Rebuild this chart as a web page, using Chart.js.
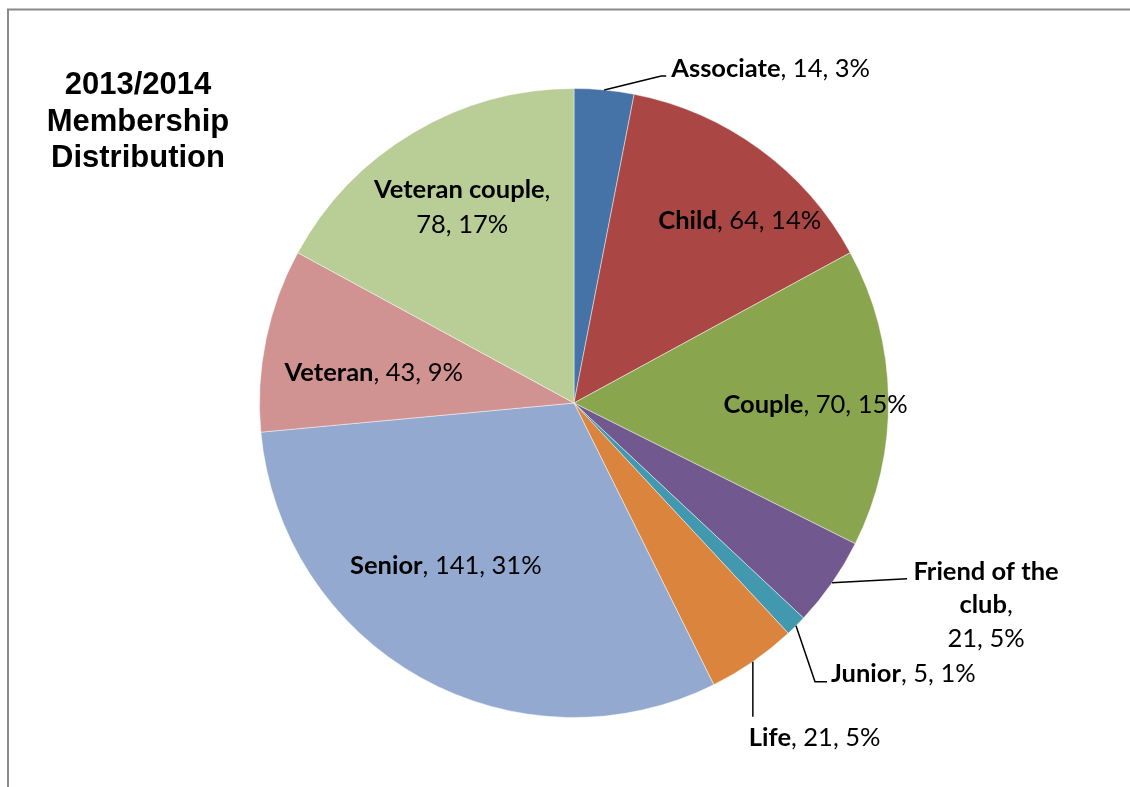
<!DOCTYPE html>
<html>
<head>
<meta charset="utf-8">
<script src="https://cdn.jsdelivr.net/npm/chart.js@4/dist/chart.umd.min.js"></script>
<style>
  html, body { margin: 0; padding: 0; background: #fff; }
  #wrap { position: relative; width: 1130px; height: 787px; }
</style>
</head>
<body>
<div id="wrap"><canvas id="c" width="1130" height="787"></canvas></div>
<script>
// Membership categories and head counts for the 2013/2014 season
const categories = ['Associate', 'Child', 'Couple', 'Friend of the club', 'Junior', 'Life', 'Senior', 'Veteran', 'Veteran couple'];
const members = [14, 64, 70, 21, 5, 21, 141, 43, 78];
const percentLabels = ['3%', '14%', '15%', '5%', '1%', '5%', '31%', '9%', '17%'];
const titleLines = ['2013/2014', 'Membership', 'Distribution'];

const sliceColors = ['#4572A7', '#AA4643', '#89A54E', '#71588F', '#4198AF', '#DB843D', '#93A9CF', '#D19392', '#B9CD96'];

const LABEL_FONT = 'Lato, "Open Sans", sans-serif';
const LABEL_SIZE = 25.5;

// Label placement: inside labels sit at a fraction of the radius around the slice middle;
// outside labels hang off a leader line that starts on the slice rim.
const inside = {
  1: { r: 0.784, turn: 6 },
  2: { r: 0.768, turn: 1.5 },
  6: { r: 0.66, turn: 9 },
  7: { r: 0.644, turn: -3 },
  8: { r: 0.717, turn: 1, lines: [[['Veteran couple', true], [',', false]], [[null, false]]] }
};
const outside = {
  0: { path: [[57, -14], [62, -14]], textDx: 5, textDy: -7, align: 'left' },
  3: { path: [[75, -4]], block: { dx: 154, dy: -11, gap: 33.5 }, lines: [[['Friend of the', true]], [['club', true], [',', false]], [[null, false]]] },
  4: { path: [[19, 56], [31, 56]], textDx: 4, textDy: -8, align: 'left' },
  5: { path: [[0, 55]], textDx: -4, textDy: 21, align: 'left' }
};

function valueText(i) { return members[i] + ', ' + percentLabels[i]; }

function drawRich(ctx, parts, x, y, align) {
  const bold = 'bold ' + LABEL_SIZE + 'px ' + LABEL_FONT;
  const norm = LABEL_SIZE + 'px ' + LABEL_FONT;
  let total = 0;
  parts.forEach(p => { ctx.font = p[1] ? bold : norm; total += ctx.measureText(p[0]).width; });
  let cx = align === 'center' ? x - total / 2 : x;
  ctx.textAlign = 'left';
  ctx.textBaseline = 'middle';
  parts.forEach(p => {
    ctx.font = p[1] ? bold : norm;
    ctx.fillText(p[0], cx, y);
    cx += ctx.measureText(p[0]).width;
  });
}

function defaultParts(i) {
  return [[categories[i], true], [', ' + valueText(i), false]];
}

const framePlugin = {
  id: 'frame',
  beforeDraw(chart) {
    const ctx = chart.ctx;
    ctx.save();
    ctx.strokeStyle = '#8a8a8a';
    ctx.lineWidth = 2;
    ctx.beginPath();
    ctx.moveTo(8, 800);
    ctx.lineTo(8, 9.5);
    ctx.lineTo(1140, 9.5);
    ctx.stroke();
    // chart title block
    ctx.fillStyle = '#000';
    ctx.font = 'bold 31px "Liberation Sans", Arial, sans-serif';
    ctx.textAlign = 'center';
    ctx.textBaseline = 'alphabetic';
    titleLines.forEach((t, k) => ctx.fillText(t, 138, 94 + k * 36.5));
    ctx.restore();
  }
};

const labelPlugin = {
  id: 'sliceLabels',
  afterDatasetsDraw(chart) {
    const ctx = chart.ctx;
    const arcs = chart.getDatasetMeta(0).data;
    ctx.save();
    ctx.fillStyle = '#000';
    ctx.strokeStyle = '#000';
    ctx.lineWidth = 1.5;
    arcs.forEach((arc, i) => {
      const { x, y, startAngle, endAngle, outerRadius } = arc.getProps(['x', 'y', 'startAngle', 'endAngle', 'outerRadius'], true);
      const mid = (startAngle + endAngle) / 2;
      if (inside[i]) {
        const cfg = inside[i];
        const a = mid + cfg.turn * Math.PI / 180;
        const px = x + Math.cos(a) * outerRadius * cfg.r;
        const py = y + Math.sin(a) * outerRadius * cfg.r;
        if (cfg.lines) {
          const gap = 35;
          const n = cfg.lines.length;
          cfg.lines.forEach((ln, k) => {
            const parts = ln.map(p => [p[0] === null ? valueText(i) : p[0], p[1]]);
            drawRich(ctx, parts, px, py + (k - (n - 1) / 2) * gap, 'center');
          });
        } else {
          drawRich(ctx, defaultParts(i), px, py, 'center');
        }
      } else if (outside[i]) {
        const cfg = outside[i];
        const sx = x + Math.cos(mid) * outerRadius;
        const sy = y + Math.sin(mid) * outerRadius;
        ctx.beginPath();
        ctx.moveTo(sx, sy);
        cfg.path.forEach(p => ctx.lineTo(sx + p[0], sy + p[1]));
        ctx.stroke();
        const end = cfg.path[cfg.path.length - 1];
        if (cfg.block) {
          const bx = sx + cfg.block.dx;
          const by = sy + cfg.block.dy;
          cfg.lines.forEach((ln, k) => {
            const parts = ln.map(p => [p[0] === null ? valueText(i) : p[0], p[1]]);
            drawRich(ctx, parts, bx, by + k * cfg.block.gap, 'center');
          });
        } else {
          drawRich(ctx, defaultParts(i), sx + end[0] + cfg.textDx, sy + end[1] + cfg.textDy, 'left');
        }
      }
    });
    ctx.restore();
  }
};

new Chart(document.getElementById('c'), {
  type: 'pie',
  data: {
    labels: categories,
    datasets: [{
      data: members,
      backgroundColor: sliceColors,
      borderColor: 'rgba(255,255,255,0.45)',
      borderWidth: 1,
      hoverOffset: 0
    }]
  },
  options: {
    responsive: false,
    animation: false,
    layout: { padding: { left: 259, right: 241, top: 87, bottom: 68 } },
    plugins: {
      legend: { display: false },
      tooltip: { enabled: false },
      title: { display: false }
    }
  },
  plugins: [framePlugin, labelPlugin]
});
</script>
</body>
</html>
